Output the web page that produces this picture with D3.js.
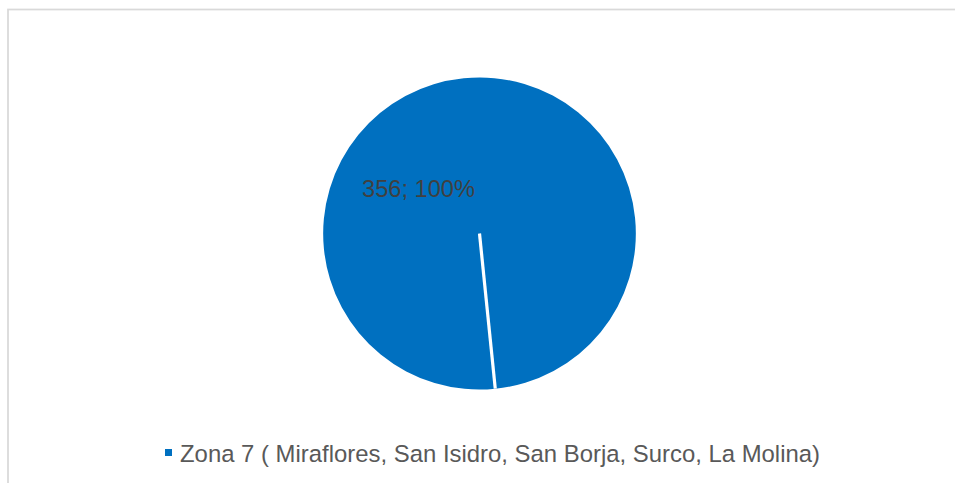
<!DOCTYPE html>
<html>
<head>
<meta charset="utf-8">
<script src="https://cdn.jsdelivr.net/npm/d3@7"></script>
<style>
  html, body { margin: 0; padding: 0; background: #ffffff; }
  svg { display: block; }
  text { font-family: "Liberation Sans", Arial, sans-serif; }
</style>
</head>
<body>
<svg id="chart" width="955" height="483"></svg>
<script>
// Data
const categories = ["Zona 7 ( Miraflores, San Isidro, San Borja, Surco, La Molina)"];
const values = [356];
const colors = ["#0070C0"];

const svg = d3.select("#chart");
const W = 955, H = 483;

// Chart frame (extends past the right and bottom edges)
svg.append("rect")
  .attr("x", 8).attr("y", 9.5)
  .attr("width", W + 20).attr("height", H + 20)
  .attr("fill", "#ffffff")
  .attr("stroke", "#d9d9d9")
  .attr("stroke-width", 1.75);

const cx = 479.5, cy = 233.5, r = 156;
const startDeg = 174.2;
const start = startDeg * Math.PI / 180;

const pie = d3.pie().sort(null).startAngle(start).endAngle(start + 2 * Math.PI);
const arcs = pie(values);
const arc = d3.arc().innerRadius(0).outerRadius(r);

const g = svg.append("g").attr("transform", `translate(${cx},${cy})`);

g.selectAll("path.slice")
  .data(arcs)
  .enter().append("path")
  .attr("class", "slice")
  .attr("d", arc)
  .attr("fill", (d, i) => colors[i]);

// Slice border along each slice's start edge
g.selectAll("line.edge")
  .data(arcs)
  .enter().append("line")
  .attr("class", "edge")
  .attr("x1", 0).attr("y1", 0)
  .attr("x2", d => d3.pointRadial(d.startAngle, r)[0])
  .attr("y2", d => d3.pointRadial(d.startAngle, r)[1])
  .attr("stroke", "#ffffff")
  .attr("stroke-width", 3.2);

// Data labels: value; percent
const total = d3.sum(values);
const pct = d3.format(".0%");
g.selectAll("text.lbl")
  .data(arcs)
  .enter().append("text")
  .attr("class", "lbl")
  .attr("x", -61)
  .attr("y", -36.5)
  .attr("text-anchor", "middle")
  .attr("fill", "#404040")
  .attr("font-size", 23.6)
  .text(d => `${d.value}; ${pct(d.value / total)}`);

// Legend
const legend = svg.append("g").attr("class", "legend");
categories.forEach((c, i) => {
  legend.append("rect")
    .attr("x", 165).attr("y", 449)
    .attr("width", 7).attr("height", 7)
    .attr("fill", colors[i]);
  legend.append("text")
    .attr("x", 180).attr("y", 461.5)
    .attr("fill", "#595959")
    .attr("font-size", 23.9)
    .text(c);
});
</script>
</body>
</html>
